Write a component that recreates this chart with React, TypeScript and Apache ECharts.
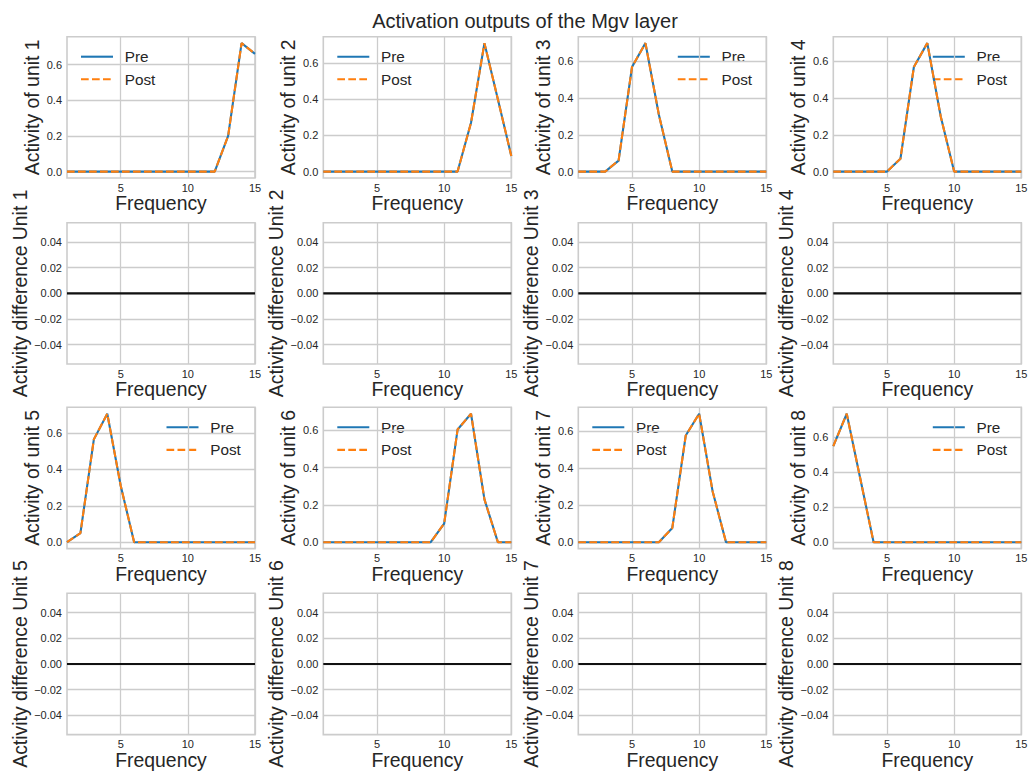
import React, { useEffect, useRef } from "react";
import * as echarts from "echarts";

// ---------------- data ----------------
const FREQUENCY = [1, 2, 3, 4, 5, 6, 7, 8, 9, 10, 11, 12, 13, 14, 15];

// Activity (Pre) per unit, one value per frequency
const PRE_UNIT_1 = [0, 0, 0, 0, 0, 0, 0, 0, 0, 0, 0, 0, 0.2, 0.72, 0.66];
const PRE_UNIT_2 = [0, 0, 0, 0, 0, 0, 0, 0, 0, 0, 0, 0.27, 0.71, 0.4, 0.086];
const PRE_UNIT_3 = [0, 0, 0, 0.06, 0.57, 0.7, 0.31, 0, 0, 0, 0, 0, 0, 0, 0];
const PRE_UNIT_4 = [0, 0, 0, 0, 0, 0.07, 0.57, 0.7, 0.3, 0, 0, 0, 0, 0, 0];
const PRE_UNIT_5 = [0, 0.05, 0.565, 0.706, 0.31, 0, 0, 0, 0, 0, 0, 0, 0, 0, 0];
const PRE_UNIT_6 = [0, 0, 0, 0, 0, 0, 0, 0, 0, 0.1, 0.605, 0.69, 0.23, 0, 0];
const PRE_UNIT_7 = [0, 0, 0, 0, 0, 0, 0, 0.077, 0.577, 0.695, 0.276, 0, 0, 0, 0];
const PRE_UNIT_8 = [0.55, 0.735, 0.367, 0, 0, 0, 0, 0, 0, 0, 0, 0, 0, 0, 0];

// Activity (Post) per unit — identical to Pre in the reference
const POST_UNIT_1 = [0, 0, 0, 0, 0, 0, 0, 0, 0, 0, 0, 0, 0.2, 0.72, 0.66];
const POST_UNIT_2 = [0, 0, 0, 0, 0, 0, 0, 0, 0, 0, 0, 0.27, 0.71, 0.4, 0.086];
const POST_UNIT_3 = [0, 0, 0, 0.06, 0.57, 0.7, 0.31, 0, 0, 0, 0, 0, 0, 0, 0];
const POST_UNIT_4 = [0, 0, 0, 0, 0, 0.07, 0.57, 0.7, 0.3, 0, 0, 0, 0, 0, 0];
const POST_UNIT_5 = [0, 0.05, 0.565, 0.706, 0.31, 0, 0, 0, 0, 0, 0, 0, 0, 0, 0];
const POST_UNIT_6 = [0, 0, 0, 0, 0, 0, 0, 0, 0, 0.1, 0.605, 0.69, 0.23, 0, 0];
const POST_UNIT_7 = [0, 0, 0, 0, 0, 0, 0, 0.077, 0.577, 0.695, 0.276, 0, 0, 0, 0];
const POST_UNIT_8 = [0.55, 0.735, 0.367, 0, 0, 0, 0, 0, 0, 0, 0, 0, 0, 0, 0];

const PRE = [PRE_UNIT_1, PRE_UNIT_2, PRE_UNIT_3, PRE_UNIT_4, PRE_UNIT_5, PRE_UNIT_6, PRE_UNIT_7, PRE_UNIT_8];
const POST = [POST_UNIT_1, POST_UNIT_2, POST_UNIT_3, POST_UNIT_4, POST_UNIT_5, POST_UNIT_6, POST_UNIT_7, POST_UNIT_8];

const ACTIVITY_TICKS = [0, 0.2, 0.4, 0.6, 0.8];
const DIFF_TICKS = [-0.04, -0.02, 0, 0.02, 0.04];
const FREQ_TICKS = [5, 10, 15];
const SERIES_NAMES = ["Pre", "Post"];
const TITLE = "Activation outputs of the Mgv layer";

// ---------------- layout / style ----------------
const COL_LEFT = [67, 323.3, 578.3, 833.3];
const ROW_TOP = [36.7, 222.7, 407.3, 593.3];
const GW = 188;
const GH = 141.3;
const LEGEND_SIDE = ["left", "left", "right", "right", "right", "left", "left", "right"];

const FONT = "'Liberation Sans', Arial, Helvetica, sans-serif";
const TEXT = "#262626";
const GRIDC = "#cccccc";
const BLUE = "#1f77b4";
const ORANGE = "#ff7f0e";
const POST_DASH = [7.7, 3.3];

function buildOption() {
  const grid: any[] = [];
  const xAxis: any[] = [];
  const yAxis: any[] = [];
  const series: any[] = [];
  const graphic: any[] = [];

  const xAxisBase = (gridIndex: number) => ({
    type: "value",
    gridIndex,
    min: 1,
    max: 15,
    axisLine: { show: false },
    axisTick: { show: false, customValues: FREQ_TICKS },
    axisLabel: {
      customValues: FREQ_TICKS,
      fontSize: 11,
      color: TEXT,
      fontFamily: FONT,
      margin: 4,
      formatter: (v: number) => String(v),
    },
    splitLine: { show: true, lineStyle: { color: GRIDC, width: 1.3 } },
    name: "Frequency",
    nameLocation: "middle",
    nameGap: 15,
    nameTextStyle: { fontSize: 19.4, color: TEXT, fontFamily: FONT },
  });

  for (let u = 0; u < 8; u++) {
    const col = u % 4;
    const actRow = Math.floor(u / 4) * 2;
    const diffRow = actRow + 1;
    const gA = 2 * u;
    const gD = 2 * u + 1;
    const pre = PRE[u];
    const post = POST[u];
    const diff = post.map((v, i) => v - pre[i]);

    grid.push({
      left: COL_LEFT[col],
      top: ROW_TOP[actRow],
      width: GW,
      height: GH,
      show: true,
      borderColor: GRIDC,
      borderWidth: 1.6,
      backgroundColor: "transparent",
    });
    grid.push({
      left: COL_LEFT[col],
      top: ROW_TOP[diffRow],
      width: GW,
      height: GH,
      show: true,
      borderColor: GRIDC,
      borderWidth: 1.6,
      backgroundColor: "transparent",
    });

    xAxis.push(xAxisBase(gA));
    xAxis.push(xAxisBase(gD));

    const m = Math.max(...pre, ...post);
    const ymin = -0.05 * m;
    const ymax = 1.05 * m;
    const actTicks = ACTIVITY_TICKS.filter((t) => t >= ymin && t <= ymax);

    yAxis.push({
      type: "value",
      gridIndex: gA,
      min: ymin,
      max: ymax,
      axisLine: { show: false },
      axisTick: { show: false, customValues: actTicks },
      axisLabel: {
        customValues: actTicks,
        fontSize: 11,
        color: TEXT,
        fontFamily: FONT,
        margin: 5,
        formatter: (v: number) => v.toFixed(1),
      },
      splitLine: { show: true, lineStyle: { color: GRIDC, width: 1.3 } },
      name: `Activity of unit ${u + 1}`,
      nameLocation: "middle",
      nameGap: 26,
      nameTextStyle: { fontSize: 19.4, color: TEXT, fontFamily: FONT },
    });
    yAxis.push({
      type: "value",
      gridIndex: gD,
      min: -0.055,
      max: 0.055,
      axisLine: { show: false },
      axisTick: { show: false, customValues: DIFF_TICKS },
      axisLabel: {
        customValues: DIFF_TICKS,
        fontSize: 11,
        color: TEXT,
        fontFamily: FONT,
        margin: 5,
        formatter: (v: number) => v.toFixed(2).replace("-", "\u2212"),
      },
      splitLine: { show: true, lineStyle: { color: GRIDC, width: 1.3 } },
      name: `Activity difference Unit ${u + 1}`,
      nameLocation: "middle",
      nameGap: 38,
      nameTextStyle: { fontSize: 19.4, color: TEXT, fontFamily: FONT },
    });

    series.push({
      type: "line",
      name: SERIES_NAMES[0],
      xAxisIndex: gA,
      yAxisIndex: gA,
      data: FREQUENCY.map((f, i) => [f, pre[i]]),
      showSymbol: false,
      symbol: "none",
      lineStyle: { color: BLUE, width: 2.1 },
      itemStyle: { color: BLUE },
      silent: true,
    });
    series.push({
      type: "line",
      name: SERIES_NAMES[1],
      xAxisIndex: gA,
      yAxisIndex: gA,
      data: FREQUENCY.map((f, i) => [f, post[i]]),
      showSymbol: false,
      symbol: "none",
      lineStyle: { color: ORANGE, width: 2.1, type: POST_DASH },
      itemStyle: { color: ORANGE },
      silent: true,
    });
    series.push({
      type: "line",
      name: `diff${u + 1}`,
      xAxisIndex: gD,
      yAxisIndex: gD,
      data: FREQUENCY.map((f, i) => [f, diff[i]]),
      showSymbol: false,
      symbol: "none",
      lineStyle: { color: "#111111", width: 2.1 },
      itemStyle: { color: "#111111" },
      silent: true,
    });

    // legend (matplotlib-style: line sample + label, no frame)
    const side = LEGEND_SIDE[u];
    const x0 = side === "left" ? COL_LEFT[col] + 14 : COL_LEFT[col] + GW - 88.5;
    const y0 = ROW_TOP[actRow] + 20;
    const rowGap = 22.6;
    const items = [
      { name: SERIES_NAMES[0], color: BLUE, dash: null as any },
      { name: SERIES_NAMES[1], color: ORANGE, dash: POST_DASH },
    ];
    items.forEach((it, k) => {
      const y = y0 + k * rowGap;
      graphic.push({
        type: "line",
        silent: true,
        shape: { x1: x0, y1: y, x2: x0 + 32, y2: y },
        style: { stroke: it.color, lineWidth: 2.1, lineDash: it.dash || undefined },
      });
      graphic.push({
        type: "text",
        silent: true,
        x: x0 + 32 + 11.7,
        y: y,
        style: {
          text: it.name,
          fill: TEXT,
          font: `15.3px ${FONT}`,
          textVerticalAlign: "middle",
          verticalAlign: "middle",
        },
      });
    });
  }

  return {
    animation: false,
    backgroundColor: "#ffffff",
    title: {
      text: TITLE,
      left: 520,
      top: 6,
      textAlign: "center",
      textStyle: { fontSize: 20, fontWeight: "normal", color: TEXT, fontFamily: FONT },
    },
    grid,
    xAxis,
    yAxis,
    series,
    graphic,
  };
}

export default function App() {
  const ref = useRef<HTMLDivElement>(null);
  useEffect(() => {
    if (!ref.current) return;
    const chart = echarts.init(ref.current, undefined, { renderer: "svg" });
    chart.setOption(buildOption() as any);
    return () => chart.dispose();
  }, []);
  return (
    <div
      ref={ref}
      style={{ position: "absolute", left: 0, top: 0, width: 1033, height: 773 }}
    />
  );
}
